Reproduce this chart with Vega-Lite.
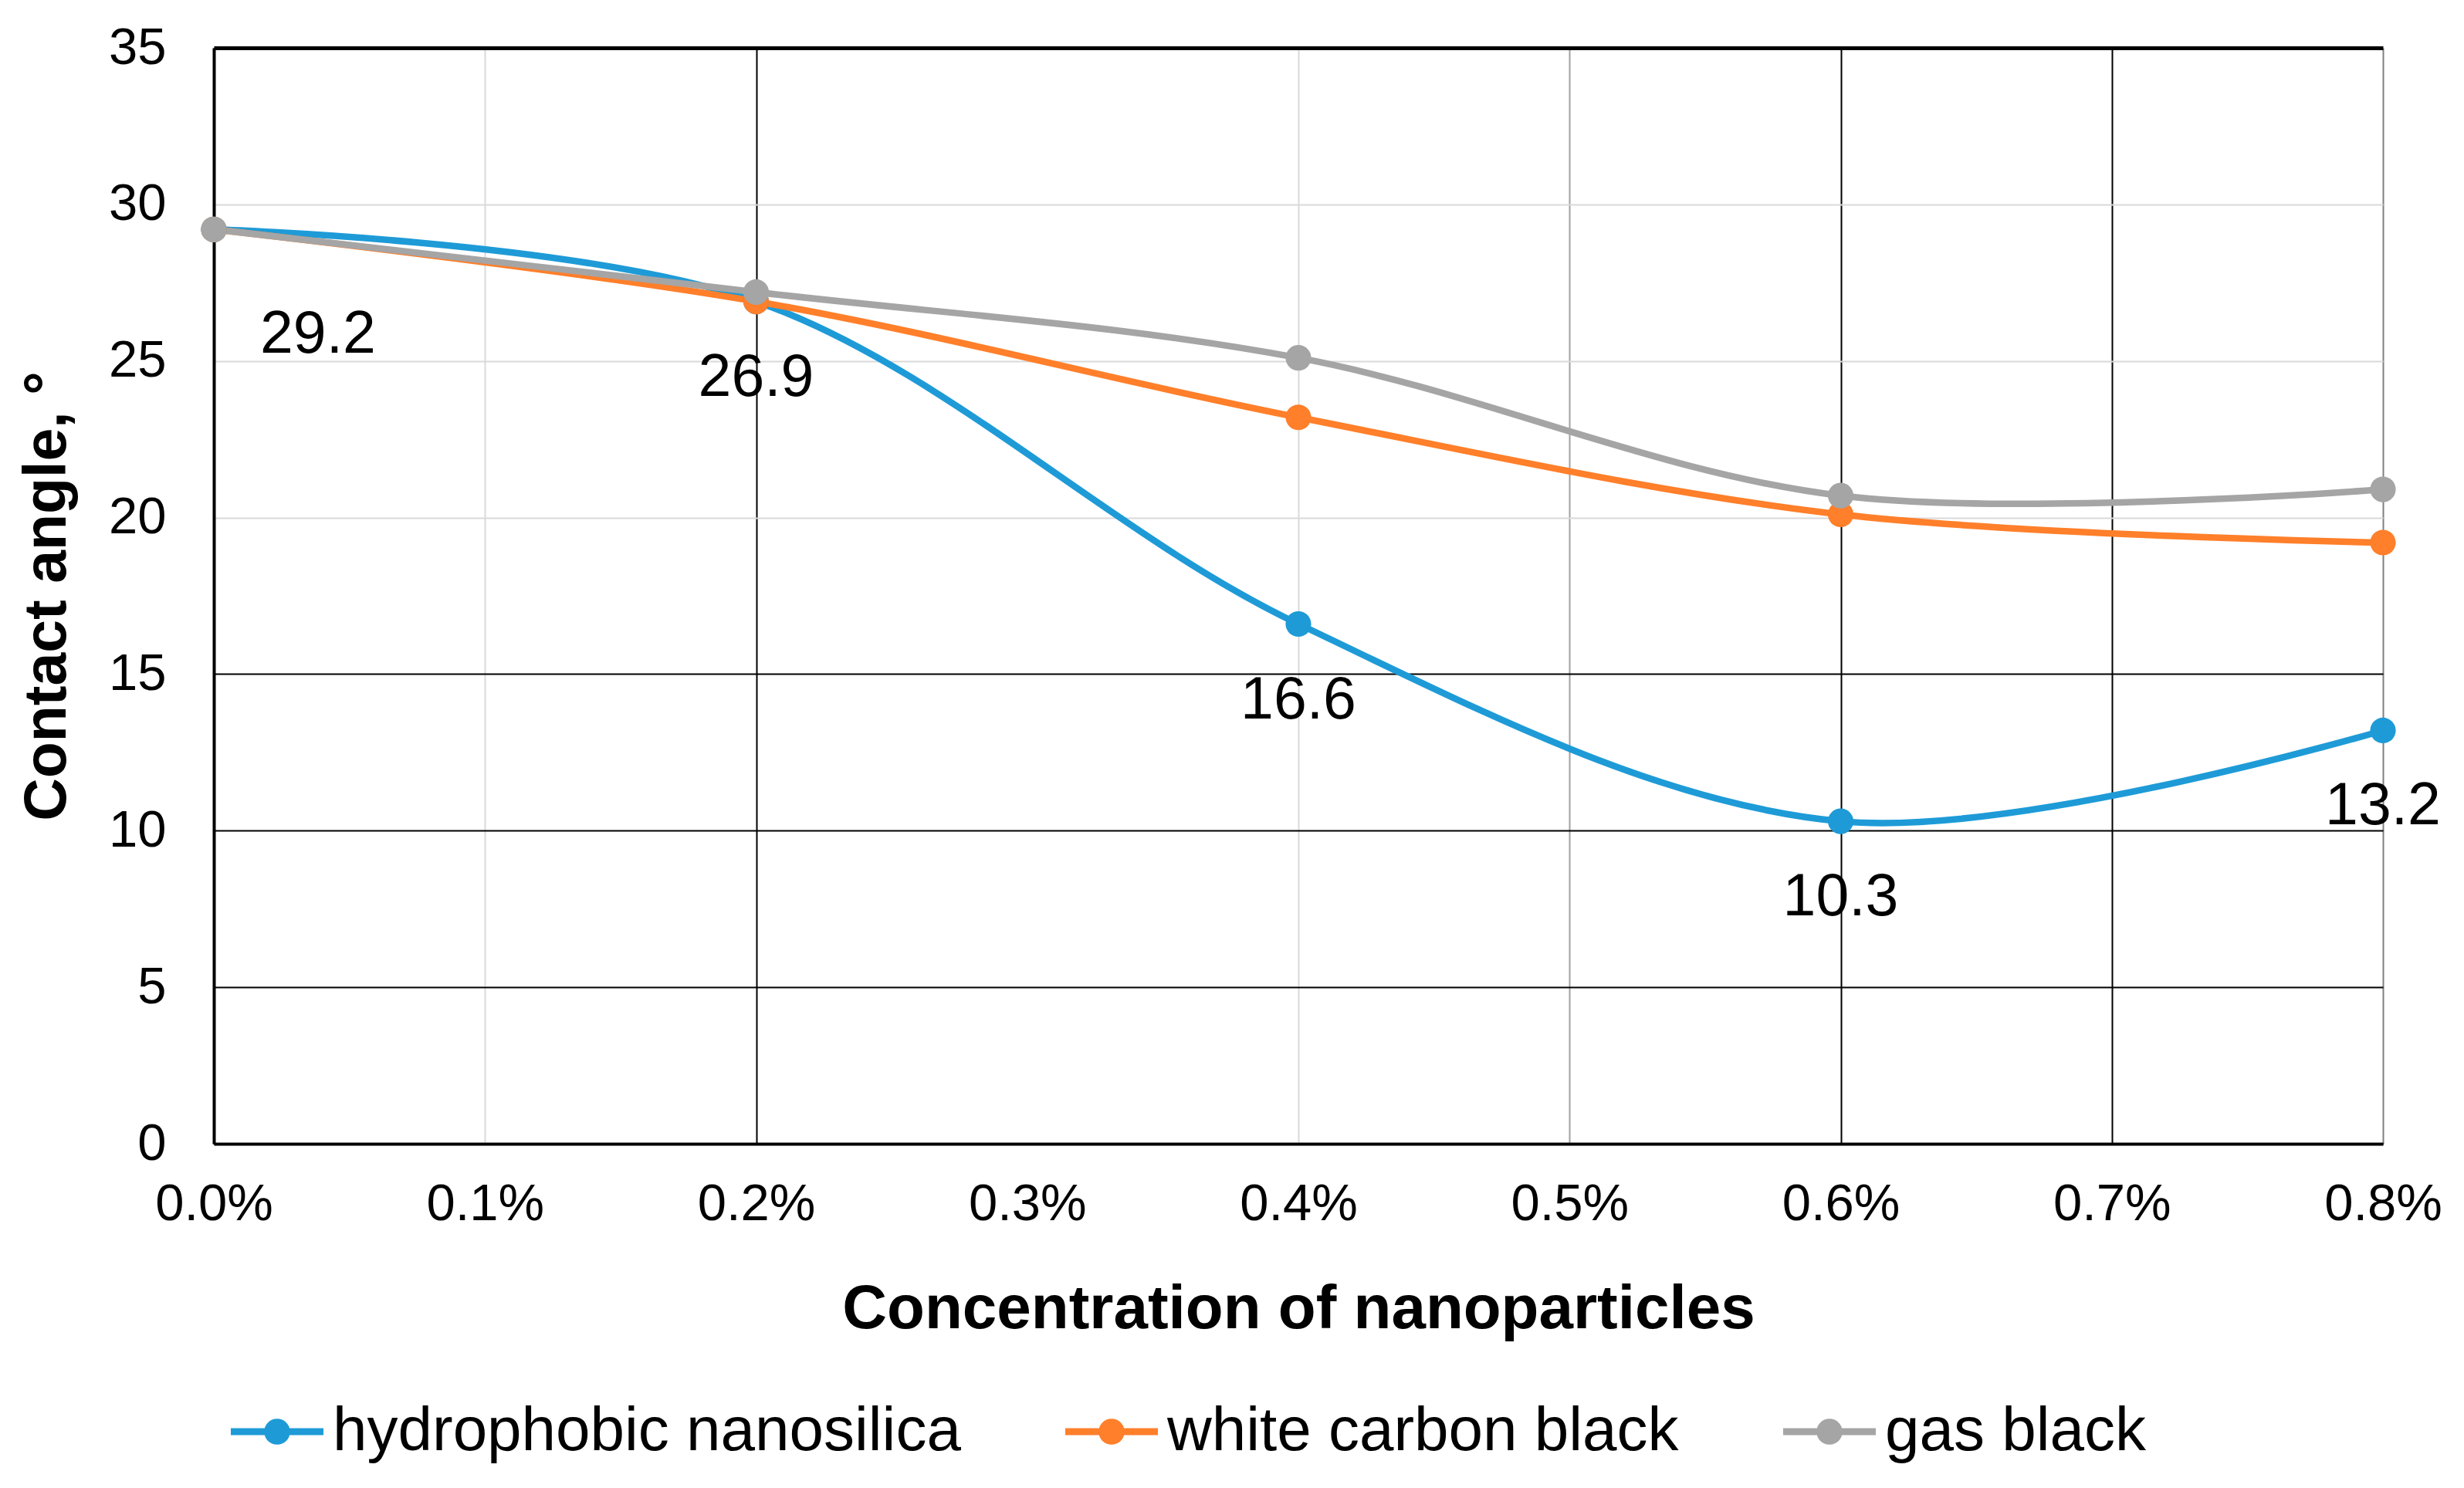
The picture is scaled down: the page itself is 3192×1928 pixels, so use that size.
{
  "$schema": "https://vega.github.io/schema/vega-lite/v6.json",
  "width": 2810,
  "height": 1420,
  "padding": {"left": 22, "top": 28, "right": 10, "bottom": 10},
  "background": "white",
  "config": {
    "view": {"stroke": null},
    "font": "Liberation Sans"
  },
  "data": {
    "values": [
      {"series": "hydrophobic nanosilica", "concentration": 0.000, "angle": 29.2},
      {"series": "hydrophobic nanosilica", "concentration": 0.002, "angle": 26.9},
      {"series": "hydrophobic nanosilica", "concentration": 0.004, "angle": 16.6},
      {"series": "hydrophobic nanosilica", "concentration": 0.006, "angle": 10.3},
      {"series": "hydrophobic nanosilica", "concentration": 0.008, "angle": 13.2},
      {"series": "white carbon black", "concentration": 0.000, "angle": 29.2},
      {"series": "white carbon black", "concentration": 0.002, "angle": 26.9},
      {"series": "white carbon black", "concentration": 0.004, "angle": 23.2},
      {"series": "white carbon black", "concentration": 0.006, "angle": 20.1},
      {"series": "white carbon black", "concentration": 0.008, "angle": 19.2},
      {"series": "gas black", "concentration": 0.000, "angle": 29.2},
      {"series": "gas black", "concentration": 0.002, "angle": 27.2},
      {"series": "gas black", "concentration": 0.004, "angle": 25.1},
      {"series": "gas black", "concentration": 0.006, "angle": 20.7},
      {"series": "gas black", "concentration": 0.008, "angle": 20.9}
    ]
  },
  "encoding": {
    "x": {
      "field": "concentration",
      "type": "quantitative",
      "scale": {"domain": [0, 0.008], "nice": false, "zero": false},
      "axis": {
        "values": [0, 0.001, 0.002, 0.003, 0.004, 0.005, 0.006, 0.007, 0.008],
        "format": ".1%",
        "title": "Concentration of nanoparticles",
        "titleFontSize": 80,
        "titleFontWeight": "bold",
        "titleColor": "black",
        "titlePadding": 64,
        "labelFontSize": 67,
        "labelColor": "black",
        "labelPadding": 45,
        "labelFlush": false,
        "ticks": false,
        "domainColor": "black",
        "domainWidth": 4,
        "grid": true,
        "gridWidth": 2,
        "gridColor": {
          "condition": [
            {"test": "datum.value == 0.002 || datum.value == 0.006 || datum.value == 0.007 || datum.value == 0", "value": "#000000"},
            {"test": "datum.value == 0.005", "value": "#a0a0a0"},
            {"test": "datum.value == 0.008", "value": "#808080"},
            {"test": "datum.value == 0.003", "value": "#ffffff"}
          ],
          "value": "#d9d9d9"
        }
      }
    },
    "y": {
      "field": "angle",
      "type": "quantitative",
      "scale": {"domain": [0, 35], "nice": false},
      "axis": {
        "values": [0, 5, 10, 15, 20, 25, 30, 35],
        "title": "Contact angle, °",
        "titleFontSize": 77,
        "titleFontWeight": "bold",
        "titleColor": "black",
        "titlePadding": 40,
        "labelFontSize": 67,
        "labelColor": "black",
        "labelPadding": 62,
        "ticks": false,
        "domainColor": "black",
        "domainWidth": 4,
        "grid": true,
        "gridWidth": {"condition": {"test": "datum.value == 35", "value": 5}, "value": 2},
        "gridColor": {"condition": {"test": "datum.value <= 15 || datum.value == 35", "value": "#000000"}, "value": "#d9d9d9"}
      }
    }
  },
  "layer": [
    {
      "mark": {"type": "line", "interpolate": "catmull-rom", "strokeWidth": 8.5},
      "encoding": {
        "color": {
          "field": "series",
          "type": "nominal",
          "sort": ["hydrophobic nanosilica", "white carbon black", "gas black"],
          "scale": {
            "domain": ["hydrophobic nanosilica", "white carbon black", "gas black"],
            "range": ["#1E9BD7", "#FF7F2A", "#A5A5A5"]
          },
          "legend": {
            "title": null,
            "orient": "bottom",
            "direction": "horizontal",
            "offset": 37,
            "padding": 22,
            "labelFontSize": 80,
            "labelColor": "black",
            "labelLimit": 0,
            "labelOffset": 12,
            "columnPadding": 135,
            "symbolSize": 14400,
            "symbolType": "M-1,-0.075L1,-0.075L1,0.075L-1,0.075Z M0.28,0A0.28,0.28,0,1,1,-0.28,0A0.28,0.28,0,1,1,0.28,0Z",
            "encode": {
              "symbols": {
                "update": {
                  "fill": {"scale": "color", "field": "value"},
                  "stroke": {"value": "transparent"},
                  "strokeWidth": {"value": 0},
                  "opacity": {"value": 1}
                }
              }
            }
          }
        }
      }
    },
    {
      "mark": {"type": "point", "filled": true, "size": 1100, "opacity": 1},
      "encoding": {
        "color": {"field": "series", "type": "nominal", "legend": null}
      }
    },
    {
      "transform": [{"filter": "datum.series == 'hydrophobic nanosilica' && datum.concentration > 0"}],
      "mark": {"type": "text", "fontSize": 77, "dy": 122, "baseline": "alphabetic", "align": "center", "color": "black"},
      "encoding": {
        "text": {"field": "angle", "type": "quantitative", "format": ".1f"}
      }
    },
    {
      "transform": [{"filter": "datum.series == 'hydrophobic nanosilica' && datum.concentration == 0"}],
      "mark": {"type": "text", "fontSize": 77, "dx": 60, "dy": 160, "baseline": "alphabetic", "align": "left", "color": "black"},
      "encoding": {
        "text": {"field": "angle", "type": "quantitative", "format": ".1f"}
      }
    }
  ]
}
